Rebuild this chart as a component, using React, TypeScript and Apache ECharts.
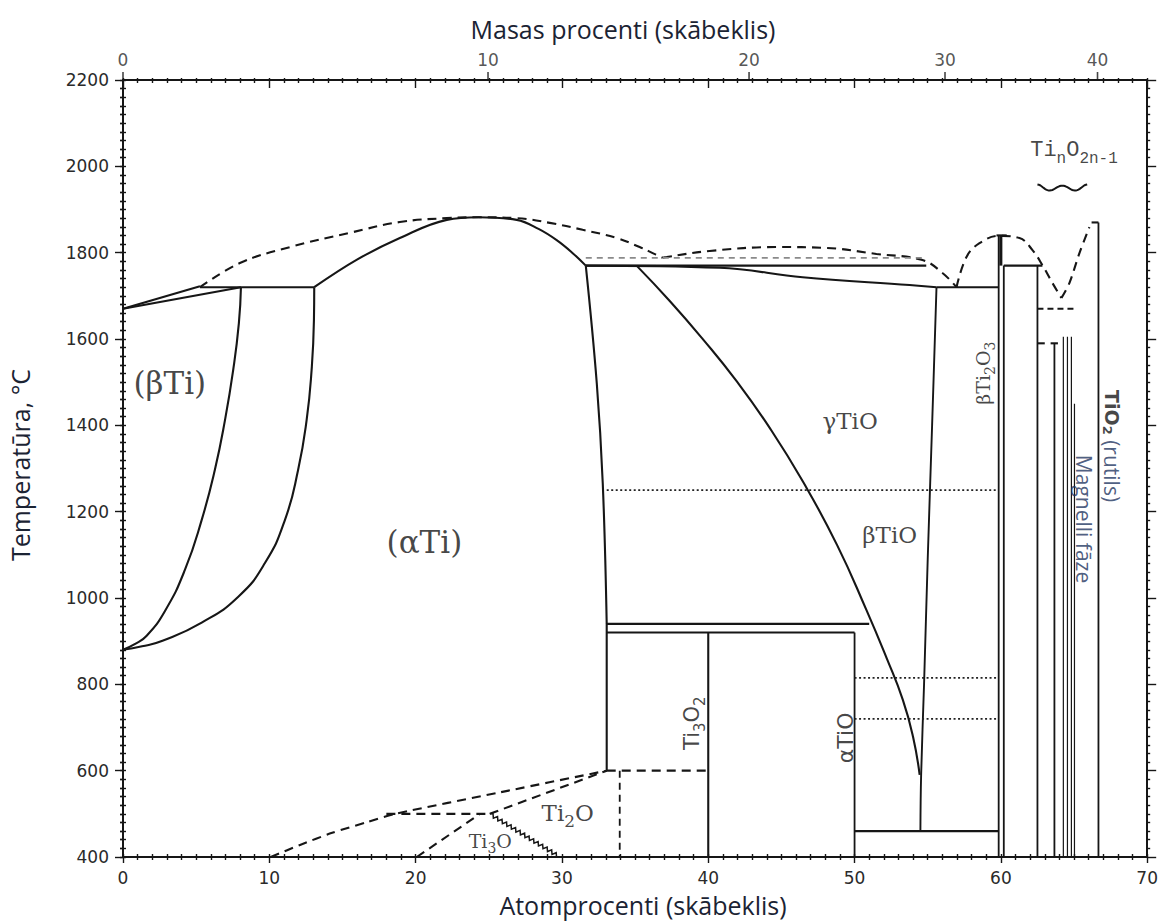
import React, { useEffect, useRef } from "react";
import * as echarts from "echarts";

// ---- Ti–O phase diagram (atomic % oxygen vs temperature, °C) ----

const INK = "#161616";
const NAVY = "#1f3560";
const SERIF = "DejaVu Serif";
const SANS = "DejaVu Sans";

// weight-% oxygen ticks on the upper axis
const wtTicks = [0, 10, 20, 30, 40];

// (βTi) side
const betaTiSolvus = [[0, 880], [0.8, 893], [1.6, 912], [2.87, 970], [4.23, 1065], [5.38, 1181], [6.28, 1297], [6.97, 1412], [7.53, 1528], [7.92, 1637], [8.06, 1720]];
const alphaTiSolvus = [[0, 880], [1.3, 888], [2.7, 901], [5.38, 943], [7.88, 1003], [9.7, 1081], [11.07, 1181], [11.97, 1297], [12.55, 1412], [12.89, 1528], [13.05, 1644], [13.07, 1720]];
const betaTiLiquidus = [[0, 1670], [5.26, 1722]];
const betaTiSolidus = [[0, 1670], [8.06, 1720]];
const peritectic1720 = [[5.26, 1720], [13.07, 1720]];

// (αTi) region
const alphaTiSolidus = [[13.07, 1720], [16.05, 1785], [18.92, 1834], [22.13, 1876], [24.3, 1882], [26.91, 1876], [28.4, 1855], [29.64, 1829], [30.7, 1800], [31.63, 1770]];
const alphaTiLiquidus = [[5.26, 1720], [7.99, 1776], [11.41, 1813], [15.51, 1846], [18.92, 1871], [22.13, 1880], [24.39, 1882], [26.91, 1880], [29.17, 1869], [31.42, 1853], [33.74, 1834], [35.31, 1813], [36.2, 1799], [36.89, 1788]];

// TiO region
const tiOLiquidus = [[36.89, 1788], [37.16, 1790], [40.1, 1804], [44.67, 1813], [48.09, 1811], [51.5, 1797], [54.64, 1783], [56.01, 1753], [56.97, 1720]];
const peritectic1770 = [[31.63, 1770], [54.9, 1770]];
const metastable1790 = [[31.63, 1788], [54.9, 1788]];
const tiOSolidus = [[31.63, 1770], [40.78, 1765], [46.45, 1743], [53.76, 1725], [55.6, 1720]];
const eutectic1720 = [[55.6, 1720], [59.85, 1720]];
const tiOLeft = [[31.63, 1770], [32.38, 1498], [32.79, 1266], [33.06, 940]];
const tiORight = [[55.6, 1720], [55.3, 1400], [55.0, 1090], [54.75, 800], [54.55, 590], [54.5, 460]];
const gammaBetaTiO = [[35.1, 1770], [37.4, 1687], [39.6, 1601], [41.9, 1504], [44.2, 1394], [46.5, 1268], [48.8, 1123], [50.8, 973], [52.2, 860], [53.3, 764], [54.0, 678], [54.45, 590]];
const eutectoid940 = [[33.06, 940], [51.0, 940]];
const eutectoid920 = [[33.06, 920], [50, 920]];
const ti3O2Left = [[33.06, 940], [33.06, 600]];
const ti3O2Right = [[40, 920], [40, 400]];
const alphaTiOLeft = [[50, 920], [50, 400]];
const eutectoid460 = [[50, 460], [59.85, 460]];
const dotted1250 = [[33.06, 1250], [59.85, 1250]];
const dotted815 = [[50, 815], [59.85, 815]];
const dotted720 = [[50, 720], [59.85, 720]];

// Ti2O / Ti3O ordering
const ti2OBoundary = [[10.1, 400], [12.1, 428], [14.3, 456], [16.7, 481], [18.6, 500], [25.8, 550], [33.06, 600]];
const ti3OTop = [[18.0, 500], [25.07, 500]];
const ti3OLeft = [[20.08, 400], [24.4, 500]];
const ti2OUpper = [[25.07, 500], [33.06, 600]];
const ti2O600 = [[33.06, 600], [40, 600]];
const ti2OVertical = [[33.95, 600], [33.95, 400]];
const ti3ORight = [[25.07, 500, 29.85, 400]];

// Ti2O3, Ti3O5, Magnéli phases, rutile
const ti2O3Dome = [[56.97, 1720], [57.65, 1790], [58.54, 1822], [59.9, 1839], [61.27, 1834], [62.16, 1806], [62.84, 1771], [63.52, 1730], [64.14, 1695]];
const rutileLiquidus = [[64.14, 1695], [64.69, 1730], [65.37, 1799], [66.05, 1859]];
const ti2O3Left = [[59.85, 1840], [59.85, 400]];
const ti2O3Core = [[60.0, 1840], [60.0, 1770]];
const ti2O3Right = [[60.2, 1770], [60.2, 400]];
const ti2O3Cap = [[59.7, 1840], [60.4, 1840]];
const ti3O5Top = [[60.2, 1770], [62.84, 1770]];
const ti3O5Line = [[62.5, 1770], [62.5, 400]];
const magneli1670 = [[62.5, 1670], [65.0, 1670]];
const ti4O7Tick = [[62.5, 1590], [63.0, 1590]];
const ti4O7Cap = [[63.4, 1590], [63.9, 1590]];
const magneliX = [63.66, 64.27, 64.55, 64.82, 65.03];
const magneliTop = [1590, 1605, 1605, 1605, 1450];
const rutileLine = [[66.67, 1870], [66.67, 400]];
const rutileCap = [[66.2, 1870], [66.67, 1870]];
const seriesBrace = [[62.5, 65.9, 1950]];

// phase labels: text, anchor (at.% O, °C), rotation
const phaseLabels = [
  { text: "(βTi)", x: 3.2, t: 1498, rotate: 0, size: 31, family: SERIF },
  { text: "(αTi)", x: 20.6, t: 1130, rotate: 0, size: 31, family: SERIF },
  { text: "γTiO", x: 49.7, t: 1410, rotate: 0, size: 23, family: SERIF },
  { text: "βTiO", x: 52.4, t: 1146, rotate: 0, size: 23, family: SERIF },
  { text: "Ti{s|2}O", x: 30.4, t: 503, rotate: 0, size: 23, family: SERIF },
  { text: "Ti{s|3}O", x: 25.1, t: 437, rotate: 0, size: 19, family: SERIF },
  { text: "Ti{s|3}O{s|2}", x: 38.9, t: 710, rotate: 90, size: 21, family: SANS },
  { text: "αTiO", x: 49.4, t: 676, rotate: 90, size: 22, family: SANS },
  { text: "βTi{s|2}O{s|3}", x: 58.8, t: 1521, rotate: 90, size: 19, family: SERIF },
  { text: "Ti{s|n}O{s|2n-1}", x: 65.0, t: 2036, rotate: 0, size: 22, family: "Liberation Mono" },
];
const noteLabels = [
  { text: "{k|TiO}{ks|2}{n| (rutils)}", x: 67.6, t: 1352, rotate: -90 },
  { text: "{n|Magnelli fāze}", x: 65.7, t: 1183, rotate: -90 },
];

const wtToAt = (w: number) => {
  const o = w / 16;
  const ti = (100 - w) / 47.867;
  return (o / (o + ti)) * 100;
};

const line = (data: number[][], opts: any = {}) => ({
  type: "line",
  data,
  symbol: "none",
  showSymbol: false,
  silent: true,
  smooth: opts.smooth ?? false,
  z: 3,
  lineStyle: { color: opts.color ?? INK, width: opts.width ?? 2.1, type: opts.type ?? "solid" },
  emphasis: { disabled: true },
});

const DASH = [9, 6];
const DOT = [2, 2.5];

export default function App() {
  const ref = useRef<HTMLDivElement>(null);

  useEffect(() => {
    if (!ref.current) return;
    const chart = echarts.init(ref.current, null, { renderer: "svg" });

    const axisCommon = { type: "value", splitLine: { show: false }, minorSplitLine: { show: false } };
    const tickStyle = { color: INK, width: 1.4 };
    const plain = (v: number) => String(v);

    const xBase = { ...axisCommon, min: 0, max: 70, interval: 10 };
    const yBase = { ...axisCommon, min: 400, max: 2200, interval: 200 };

    const series: any[] = [
      line(betaTiSolvus, { smooth: 0.5 }),
      line(alphaTiSolvus, { smooth: 0.5 }),
      line(betaTiLiquidus),
      line(betaTiSolidus),
      line(peritectic1720),
      line(alphaTiSolidus, { smooth: 0.4 }),
      line(alphaTiLiquidus, { smooth: 0.4, type: DASH }),
      line(tiOLiquidus, { smooth: 0.4, type: DASH }),
      line(peritectic1770),
      line(metastable1790, { type: [6, 5], color: "#8a8a8a", width: 1.6 }),
      line(tiOSolidus, { smooth: 0.4 }),
      line(eutectic1720),
      line(tiOLeft, { smooth: 0.4 }),
      line(tiORight, { smooth: 0.4, width: 1.9 }),
      line(gammaBetaTiO, { smooth: 0.5 }),
      line(eutectoid940),
      line(eutectoid920),
      line(ti3O2Left),
      line(ti3O2Right),
      line(alphaTiOLeft, { width: 1.8 }),
      line(eutectoid460),
      line(dotted1250, { type: DOT, width: 1.6, color: "#222" }),
      line(dotted815, { type: DOT, width: 1.6, color: "#222" }),
      line(dotted720, { type: DOT, width: 1.6, color: "#222" }),
      line(ti2OBoundary, { smooth: 0.25, type: DASH }),
      line(ti3OTop, { type: DASH }),
      line(ti3OLeft, { type: DASH }),
      line(ti2OUpper, { type: DASH }),
      line(ti2O600, { type: DASH }),
      line(ti2OVertical, { type: [7, 5], width: 1.8 }),
      line(ti2O3Dome, { smooth: 0.4, type: DASH }),
      line(rutileLiquidus, { smooth: 0.3, type: DASH }),
      line(ti2O3Left, { width: 1.8 }),
      line(ti2O3Core, { width: 3 }),
      line(ti2O3Right, { width: 1.8 }),
      line(ti2O3Cap),
      line(ti3O5Top),
      line(ti3O5Line, { width: 1.8 }),
      line(magneli1670, { type: [6, 4] }),
      line(ti4O7Tick),
      line(ti4O7Cap),
      ...magneliX.map((x, i) =>
        line([[x, magneliTop[i]], [x, 400]], { width: i === 0 ? 1.8 : 1.2 })
      ),
      line(rutileLine, { width: 1.8 }),
      line(rutileCap),
      {
        // wavy Ti3O boundary
        type: "custom",
        data: ti3ORight,
        encode: { x: [0, 2], y: [1, 3] },
        silent: true,
        z: 3,
        renderItem: (_p: any, api: any) => {
          const a = api.coord([api.value(0), api.value(1)]);
          const b = api.coord([api.value(2), api.value(3)]);
          const dx = b[0] - a[0];
          const dy = b[1] - a[1];
          const len = Math.hypot(dx, dy);
          const ux = dx / len, uy = dy / len;
          const nx = -uy, ny = ux;
          const step = 2.6;
          const n = Math.floor(len / step);
          const pts: number[][] = [];
          for (let i = 0; i <= n; i++) {
            const d = (i / n) * len;
            const off = i === 0 || i === n ? 0 : i % 2 === 0 ? 1.8 : -1.8;
            pts.push([a[0] + ux * d + nx * off, a[1] + uy * d + ny * off]);
          }
          return { type: "polyline", shape: { points: pts }, style: { stroke: INK, lineWidth: 1.5, fill: null } };
        },
      },
      {
        // brace under the TinO2n-1 label
        type: "custom",
        data: seriesBrace,
        encode: { x: [0, 1], y: 2 },
        silent: true,
        z: 3,
        renderItem: (_p: any, api: any) => {
          const a = api.coord([api.value(0), api.value(2)]);
          const b = api.coord([api.value(1), api.value(2)]);
          const w = b[0] - a[0];
          const pts: number[][] = [];
          for (let i = 0; i <= 40; i++) {
            const t = i / 40;
            const f = -Math.cos(4 * Math.PI * t) * (1 - 0.35 * Math.sin(Math.PI * t));
            pts.push([a[0] + w * t, a[1] + 3.5 * f]);
          }
          return { type: "polyline", shape: { points: pts }, style: { stroke: INK, lineWidth: 2, fill: null } };
        },
      },
      {
        // weight-% tick marks and labels on the upper axis
        type: "scatter",
        data: wtTicks.map((w) => [wtToAt(w), 2200, w]),
        encode: { x: 0, y: 1 },
        symbol: "rect",
        symbolSize: [1.6, 8],
        symbolOffset: [0, -4],
        itemStyle: { color: INK },
        clip: false,
        silent: true,
        z: 5,
        label: {
          show: true,
          position: "top",
          distance: 4,
          formatter: (p: any) => String(p.value[2]),
          fontFamily: SANS,
          fontSize: 17,
          color: "#2a2a2a",
        },
      },
      {
        type: "scatter",
        symbolSize: 0,
        silent: true,
        z: 6,
        clip: false,
        data: phaseLabels.map((l) => ({
          value: [l.x, l.t],
          label: {
            show: true,
            position: "inside",
            formatter: l.text,
            rotate: l.rotate,
            fontSize: l.size,
            fontFamily: l.family,
            color: INK,
            rich: {
              s: { fontSize: Math.round(l.size * 0.72), fontFamily: l.family, color: INK, padding: [Math.round(l.size * 0.75), 0, 0, 0] },
            },
          },
        })),
      },
      {
        type: "scatter",
        symbolSize: 0,
        silent: true,
        z: 6,
        clip: false,
        data: noteLabels.map((l) => ({
          value: [l.x, l.t],
          label: {
            show: true,
            position: "inside",
            formatter: l.text,
            rotate: l.rotate,
            rich: {
              k: { fontSize: 19, fontFamily: SANS, color: INK, fontWeight: "bold" },
              ks: { fontSize: 13, fontFamily: SANS, color: INK, fontWeight: "bold", padding: [10, 0, 0, 0] },
              n: { fontSize: 21, fontFamily: "Open Sans", color: NAVY },
            },
          },
        })),
      },
    ];

    const titleStyle = (text: string) => ({
      text,
      font: "25px 'Open Sans'",
      fill: "#1b2333",
      align: "center",
      verticalAlign: "middle",
      textAlign: "center",
      textVerticalAlign: "middle",
    });

    chart.setOption({
      animation: false,
      backgroundColor: "#ffffff",
      grid: { left: 123, right: 13, top: 80, bottom: 65, containLabel: false },
      xAxis: [
        {
          ...xBase,
          position: "bottom",
          axisLine: { show: true, onZero: false, lineStyle: { color: INK, width: 2 } },
          axisTick: { show: true, inside: false, length: 6, lineStyle: tickStyle },
          minorTick: { show: true, splitNumber: 10, length: 3, lineStyle: tickStyle },
          axisLabel: { show: true, margin: 12, color: "#2a2a2a", fontFamily: SANS, fontSize: 17, formatter: plain },
        },
        {
          ...xBase,
          position: "bottom",
          axisLine: { show: false },
          axisTick: { show: true, inside: true, length: 3, lineStyle: tickStyle },
          minorTick: { show: true, splitNumber: 10, length: 3, lineStyle: tickStyle },
          axisLabel: { show: false },
        },
        {
          ...xBase,
          position: "top",
          axisLine: { show: true, onZero: false, lineStyle: { color: INK, width: 2 } },
          axisTick: { show: true, inside: true, length: 8, lineStyle: tickStyle },
          minorTick: { show: true, splitNumber: 10, length: 3, lineStyle: tickStyle },
          axisLabel: { show: false },
        },
        {
          ...xBase,
          position: "top",
          axisLine: { show: false },
          axisTick: { show: true, inside: false, length: 2, lineStyle: tickStyle },
          minorTick: { show: true, splitNumber: 10, length: 2, lineStyle: tickStyle },
          axisLabel: { show: false },
        },
      ],
      yAxis: [
        {
          ...yBase,
          position: "left",
          axisLine: { show: true, onZero: false, lineStyle: { color: INK, width: 2 } },
          axisTick: { show: true, inside: false, length: 8, lineStyle: tickStyle },
          minorTick: { show: true, splitNumber: 10, length: 3, lineStyle: tickStyle },
          axisLabel: { show: true, margin: 14, color: "#2a2a2a", fontFamily: SANS, fontSize: 17, formatter: plain },
        },
        {
          ...yBase,
          position: "left",
          axisLine: { show: false },
          axisTick: { show: true, inside: true, length: 3, lineStyle: tickStyle },
          minorTick: { show: true, splitNumber: 10, length: 3, lineStyle: tickStyle },
          axisLabel: { show: false },
        },
        {
          ...yBase,
          position: "right",
          axisLine: { show: true, onZero: false, lineStyle: { color: INK, width: 2 } },
          axisTick: { show: true, inside: false, length: 9, lineStyle: tickStyle },
          minorTick: { show: true, splitNumber: 10, length: 3, lineStyle: tickStyle },
          axisLabel: { show: false },
        },
        {
          ...yBase,
          position: "right",
          axisLine: { show: false },
          axisTick: { show: true, inside: true, length: 3, lineStyle: tickStyle },
          minorTick: { show: true, splitNumber: 10, length: 3, lineStyle: tickStyle },
          axisLabel: { show: false },
        },
      ],
      graphic: [
        { type: "text", x: 623, y: 29, style: titleStyle("Masas procenti (skābeklis)") },
        { type: "text", x: 643, y: 905, style: titleStyle("Atomprocenti (skābeklis)") },
        { type: "text", x: 20, y: 465, rotation: Math.PI / 2, style: titleStyle("Temperatūra, °C") },
      ],
      series,
    });

    return () => chart.dispose();
  }, []);

  return (
    <div
      ref={ref}
      style={{ position: "fixed", left: 0, top: 0, width: 1161, height: 922, background: "#fff" }}
    />
  );
}
